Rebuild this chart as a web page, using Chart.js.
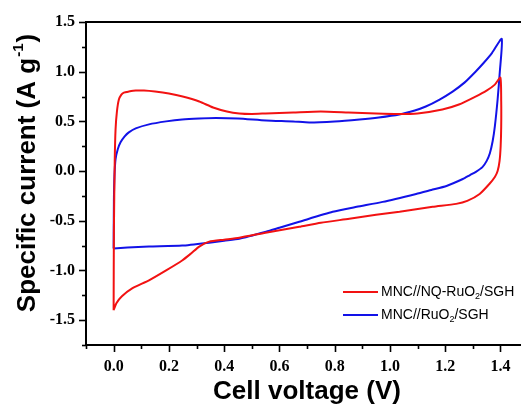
<!DOCTYPE html>
<html>
<head>
<meta charset="utf-8">
<script src="https://cdn.jsdelivr.net/npm/chart.js@4.4.1/dist/chart.umd.min.js"></script>
<style>
  html, body { margin: 0; padding: 0; background: #fff; overflow: hidden; }
  #wrap { width: 540px; height: 407px; }
</style>
</head>
<body>
<div id="wrap"><canvas id="cv"></canvas></div>
<script>
// MNC//NQ-RuO2/SGH  (anodic sweep then cathodic sweep)
const redV = [0, 0.001, 0.004, 0.007, 0.012, 0.019, 0.028, 0.037, 0.055, 0.08, 0.11, 0.15, 0.2, 0.25, 0.31, 0.36, 0.41, 0.455, 0.5, 0.55, 0.65, 0.75, 0.85, 0.95, 1.03, 1.1, 1.19, 1.25, 1.31, 1.35, 1.38, 1.4,
              1.403, 1.403, 1.401, 1.397, 1.39, 1.38, 1.36, 1.325, 1.28, 1.24, 1.155, 1.035, 0.95, 0.853, 0.75, 0.672, 0.55, 0.455, 0.4, 0.346, 0.31, 0.28, 0.248, 0.19, 0.128, 0.067, 0.03, 0.01, 0];
const redI = [-1.40, -0.6, 0.1, 0.42, 0.6, 0.72, 0.77, 0.79, 0.80, 0.81, 0.81, 0.80, 0.78, 0.75, 0.70, 0.64, 0.60, 0.58, 0.575, 0.58, 0.59, 0.60, 0.59, 0.58, 0.575, 0.58, 0.62, 0.67, 0.75, 0.81, 0.87, 0.94,
              0.70, 0.45, 0.25, 0.10, 0.0, -0.06, -0.13, -0.23, -0.30, -0.33, -0.36, -0.41, -0.44, -0.48, -0.52, -0.56, -0.62, -0.67, -0.69, -0.71, -0.76, -0.83, -0.90, -1.00, -1.10, -1.18, -1.26, -1.33, -1.40];

// MNC//RuO2/SGH
const blueV = [0, 0.001, 0.003, 0.007, 0.015, 0.025, 0.04, 0.055, 0.08, 0.128, 0.19, 0.248, 0.31, 0.37, 0.45, 0.552, 0.65, 0.708, 0.8, 0.89, 0.96, 1.034, 1.09, 1.13, 1.18, 1.227, 1.27, 1.31, 1.34, 1.37, 1.405,
               1.398, 1.39, 1.38, 1.372, 1.362, 1.35, 1.335, 1.31, 1.29, 1.264, 1.205, 1.15, 1.095, 0.974, 0.88, 0.793, 0.672, 0.6, 0.552, 0.455, 0.4, 0.346, 0.248, 0.128, 0.05, 0];
const blueI = [-0.78, -0.3, -0.05, 0.12, 0.22, 0.29, 0.35, 0.39, 0.43, 0.47, 0.50, 0.52, 0.53, 0.535, 0.53, 0.51, 0.50, 0.49, 0.50, 0.52, 0.54, 0.57, 0.61, 0.65, 0.72, 0.80, 0.89, 1.00, 1.09, 1.19, 1.33,
               1.00, 0.72, 0.45, 0.30, 0.18, 0.10, 0.04, -0.01, -0.04, -0.08, -0.15, -0.19, -0.23, -0.31, -0.36, -0.41, -0.51, -0.57, -0.61, -0.68, -0.70, -0.72, -0.75, -0.76, -0.77, -0.78];

const seriesNames = ['MNC//NQ-RuO|2|/SGH', 'MNC//RuO|2|/SGH'];
const seriesColors = ['#f21212', '#1212e8'];
const yTitle = ['Specific current (A g', '-1', ')'];

function toPoints(xs, ys) {
    return xs.map((x, i) => ({ x: x, y: ys[i] }));
}

// minor/major ticks, top frame line, y title and legend with sub/superscripts
const decor = {
    id: 'decor',
    afterDraw(chart) {
        const ctx = chart.ctx;
        const area = chart.chartArea;
        const xs = chart.scales.x;
        const ys = chart.scales.y;
        ctx.save();
        ctx.strokeStyle = '#000';
        ctx.lineWidth = 2;
        ctx.beginPath();
        ctx.moveTo(area.left, area.top);
        ctx.lineTo(area.right + 2, area.top);
        ctx.stroke();

        ctx.lineWidth = 1.6;
        xs.ticks.forEach(t => {
            const px = Math.round(xs.getPixelForValue(t.value)) + 0.5;
            const major = Math.round(t.value * 10) % 2 === 0;
            ctx.beginPath();
            ctx.moveTo(px, area.bottom);
            ctx.lineTo(px, area.bottom + (major ? 7 : 4));
            ctx.stroke();
        });
        ys.ticks.forEach(t => {
            const py = Math.round(ys.getPixelForValue(t.value)) + 0.5;
            const major = Math.round(t.value * 4) % 2 === 0;
            ctx.beginPath();
            ctx.moveTo(area.left, py);
            ctx.lineTo(area.left - (major ? 7 : 4), py);
            ctx.stroke();
        });

        // y axis title
        ctx.save();
        ctx.translate(28, 174);
        ctx.rotate(-Math.PI / 2);
        ctx.fillStyle = '#000';
        ctx.textBaseline = 'middle';
        const big = 'bold 26px "Liberation Sans", Arial, sans-serif';
        const small = 'bold 15px "Liberation Sans", Arial, sans-serif';
        ctx.font = big;
        const w0 = ctx.measureText(yTitle[0]).width;
        const w2 = ctx.measureText(yTitle[2]).width;
        ctx.font = small;
        const w1 = ctx.measureText(yTitle[1]).width;
        let tx = -(w0 + w1 + w2) / 2;
        ctx.font = big;
        ctx.fillText(yTitle[0], tx, 0);
        tx += w0;
        ctx.font = small;
        ctx.fillText(yTitle[1], tx + 1, -9);
        tx += w1 + 2;
        ctx.font = big;
        ctx.fillText(yTitle[2], tx, 0);
        ctx.restore();

        // legend
        let ly = 292;
        chart.data.datasets.forEach((ds, i) => {
            ctx.strokeStyle = ds.borderColor;
            ctx.lineWidth = 2;
            ctx.beginPath();
            ctx.moveTo(343, ly);
            ctx.lineTo(378, ly);
            ctx.stroke();
            const parts = seriesNames[i].split('|');
            let lx = 381;
            ctx.fillStyle = '#000';
            ctx.textBaseline = 'middle';
            ctx.font = '14px "Liberation Sans", Arial, sans-serif';
            ctx.fillText(parts[0], lx, ly);
            lx += ctx.measureText(parts[0]).width;
            ctx.font = '9px "Liberation Sans", Arial, sans-serif';
            ctx.fillText(parts[1], lx, ly + 5);
            lx += ctx.measureText(parts[1]).width;
            ctx.font = '14px "Liberation Sans", Arial, sans-serif';
            ctx.fillText(parts[2], lx, ly);
            ly += 23;
        });
        ctx.restore();
    }
};

const tickFont = { family: '"Liberation Serif", "Times New Roman", serif', size: 16, weight: 'bold' };
const titleFont = { family: '"Liberation Sans", Arial, sans-serif', size: 26, weight: 'bold' };

new Chart(document.getElementById('cv'), {
    type: 'scatter',
    data: {
        datasets: [
            { label: 'MNC//NQ-RuO2/SGH', data: toPoints(redV, redI), borderColor: seriesColors[0] },
            { label: 'MNC//RuO2/SGH', data: toPoints(blueV, blueI), borderColor: seriesColors[1] }
        ].map(d => Object.assign(d, { showLine: true, pointRadius: 0, borderWidth: 2, tension: 0.2, fill: false }))
    },
    options: {
        responsive: true,
        maintainAspectRatio: false,
        animation: false,
        layout: { padding: { top: 22, right: 12, left: 0, bottom: 0 } },
        plugins: { legend: { display: false }, tooltip: { enabled: false } },
        scales: {
            x: {
                type: 'linear',
                min: -0.1,
                max: 1.5,
                afterFit(s) { s.height = 62; },
                grid: { display: false, drawTicks: false },
                border: { display: true, color: '#000', width: 2 },
                ticks: {
                    stepSize: 0.1,
                    autoSkip: false,
                    maxRotation: 0,
                    padding: 12,
                    color: '#000',
                    font: tickFont,
                    callback: v => {
                        const k = Math.round(v * 10);
                        return (k % 2 === 0 && k >= 0 && k <= 14) ? (k / 10).toFixed(1) : '';
                    }
                },
                title: { display: true, text: 'Cell voltage (V)', color: '#000', font: titleFont, padding: { top: 0, bottom: 0 } }
            },
            y: {
                type: 'linear',
                min: -1.75,
                max: 1.5,
                afterFit(s) { s.width = 86; },
                grid: { display: false, drawTicks: false },
                border: { display: true, color: '#000', width: 2 },
                ticks: {
                    stepSize: 0.25,
                    autoSkip: false,
                    padding: 11,
                    color: '#000',
                    font: tickFont,
                    callback: v => {
                        const k = Math.round(v * 4);
                        return (k % 2 === 0 && k >= -6) ? (k / 4).toFixed(1) : '';
                    }
                }
            }
        }
    },
    plugins: [decor]
});
</script>
</body>
</html>
